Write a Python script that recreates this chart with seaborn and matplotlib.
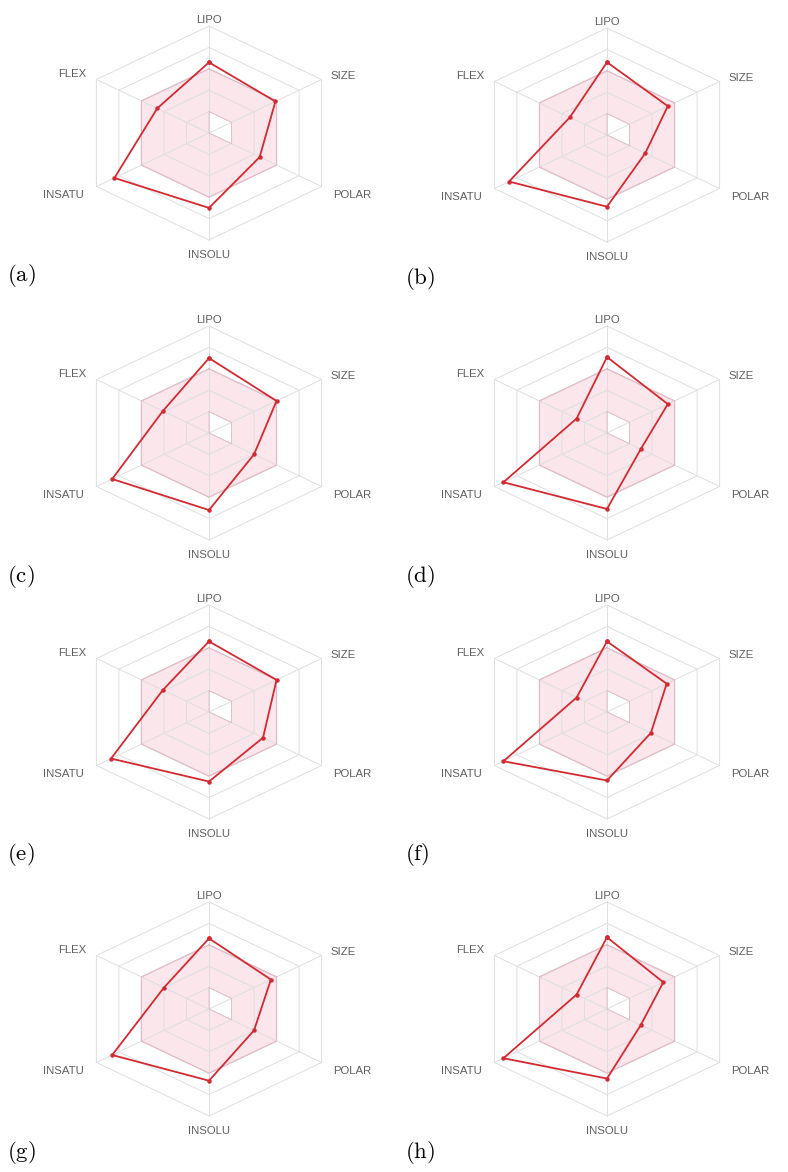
import numpy as np
import pandas as pd
import matplotlib
matplotlib.use("Agg")
import matplotlib.pyplot as plt
import seaborn as sns

# radar axes (SwissADME bioavailability radar)
eixos = ["LIPO", "SIZE", "POLAR", "INSOLU", "INSATU", "FLEX"]
angulos_graus = [90, 30, -30, -90, -150, 150]
paineis = ["(a)", "(b)", "(c)", "(d)", "(e)", "(f)", "(g)", "(h)"]

# values, normalised to the outer hexagon (1.0)
lipo = [0.66, 0.68, 0.70, 0.71, 0.66, 0.66, 0.66, 0.67]
size = [0.59, 0.54, 0.60, 0.54, 0.60, 0.53, 0.55, 0.50]
polar = [0.45, 0.34, 0.40, 0.30, 0.48, 0.39, 0.40, 0.30]
insolu = [0.70, 0.67, 0.72, 0.71, 0.65, 0.64, 0.67, 0.65]
insatu = [0.84, 0.87, 0.86, 0.92, 0.87, 0.92, 0.86, 0.92]
flex = [0.46, 0.33, 0.41, 0.27, 0.41, 0.27, 0.40, 0.27]

# optimal (pink) range on each axis
faixa_min = [0.2, 0.2, 0.2, 0.0, 0.0, 0.0]
faixa_max = [0.6, 0.6, 0.6, 0.6, 0.6, 0.6]
aneis = [0.2, 0.4, 0.6, 0.8, 1.0]

sns.set_style("white")
plt.rcParams["mathtext.fontset"] = "cm"
plt.rcParams["font.family"] = ["Liberation Sans", "DejaVu Sans"]

W, H, DPI = 788, 1172, 100
fig = plt.figure(figsize=(W / DPI, H / DPI), dpi=DPI)

ang = np.deg2rad(angulos_graus)


def xy(r):
    r = np.asarray(r, dtype=float)
    return r * np.cos(ang), r * np.sin(ang)


def fechar(a):
    return np.append(a, a[0])


# panel centres in pixels (from top-left)
centros = [(209, 133), (607, 135), (209, 433), (607, 433),
           (209, 712), (607, 712), (209, 1009), (607, 1009)]
sx, sy = 130, 107
xlim, ylim = 1.45, 1.25
ax_w, ax_h = 2 * xlim * sx, 2 * ylim * sy

pos_rotulos = [(0, 1.06), (1.03, 0.53), (1.10, -0.58),
               (0, -1.14), (-1.12, -0.58), (-1.05, 0.55)]

cor_grade = "#dedede"
cor_linha = "#d32a32"

for i, nome in enumerate(paineis):
    cx, cy = centros[i]
    ax = fig.add_axes([(cx - ax_w / 2) / W, (H - cy - ax_h / 2) / H, ax_w / W, ax_h / H])
    ax.set_xlim(-xlim, xlim)
    ax.set_ylim(-ylim, ylim)
    ax.set_aspect("auto")
    ax.axis("off")

    # pink optimal band
    xo, yo = xy(faixa_max)
    xi, yi = xy(faixa_min)
    bx = np.concatenate([fechar(xo), fechar(xi)[::-1]])
    by = np.concatenate([fechar(yo), fechar(yi)[::-1]])
    ax.fill(bx, by, color="#fbe6ec", lw=0, zorder=1)
    ax.plot(fechar(xo), fechar(yo), color="#e0bcc8", lw=0.9, zorder=2)
    ax.plot(fechar(xi), fechar(yi), color="#e0bcc8", lw=0.6, zorder=2)

    # hexagonal grid and spokes
    for r in aneis:
        gx, gy = xy([r] * 6)
        ax.plot(fechar(gx), fechar(gy), color=cor_grade, lw=0.7, zorder=1.5)
    ex, ey = xy([1.0] * 6)
    for k in range(6):
        ax.plot([0, ex[k]], [0, ey[k]], color=cor_grade, lw=0.7, zorder=1.5)

    # compound profile
    vals = [lipo[i], size[i], polar[i], insolu[i], insatu[i], flex[i]]
    px, py = xy(vals)
    df = pd.DataFrame({"x": fechar(px), "y": fechar(py)})
    sns.lineplot(data=df, x="x", y="y", sort=False, estimator=None,
                 color=cor_linha, lw=1.3, marker="o", markersize=3.2,
                 markeredgewidth=0, ax=ax, zorder=4)
    ax.set_xlabel("")
    ax.set_ylabel("")

    for k, lab in enumerate(eixos):
        lx, ly = pos_rotulos[k]
        ax.text(lx, ly, lab, ha="center", va="center", fontsize=8.2, color="#5e5e5e")

    fig.text((cx - 202) / W, 1 - (cy + 143) / H, r"$\mathrm{%s}$" % nome,
             ha="left", va="center", fontsize=16.5, color="black")

fig.savefig("out.png", dpi=DPI)
